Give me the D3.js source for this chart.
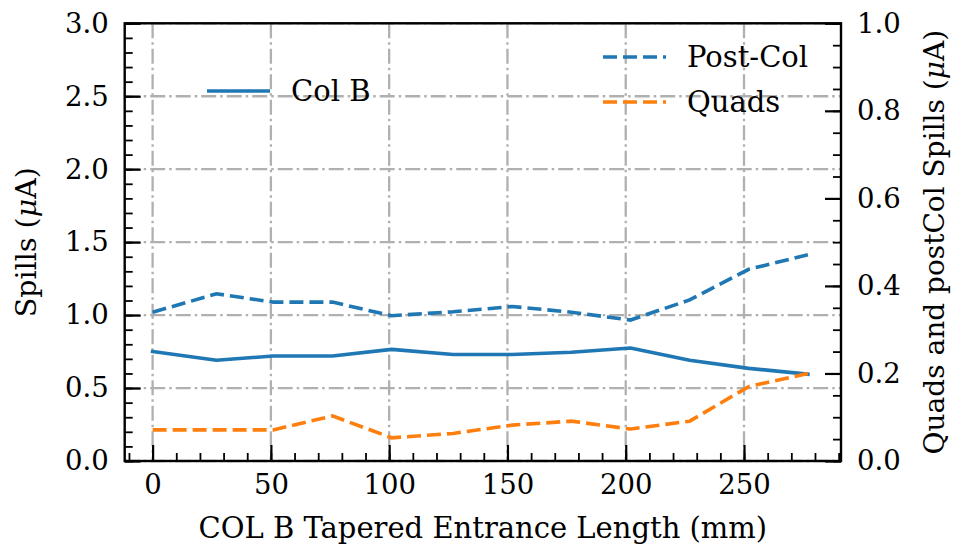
<!DOCTYPE html>
<html>
<head>
<meta charset="utf-8">
<script src="https://cdn.jsdelivr.net/npm/d3@7"></script>
<style>
  body { margin: 0; background: #fff; }
  svg { display: block; font-family: "DejaVu Serif", serif; }
  .axis text { font-family: "DejaVu Serif", serif; font-size: 27.5px; fill: #000; }
  .axis path.domain { display: none; }
</style>
</head>
<body>
<div id="chart"></div>
<script>
// tapered entrance length (mm)
const lengths = [0, 27, 51, 76, 101, 127, 152, 177, 202, 227, 252, 277];
// left axis: Col B spills (uA)
const colB = [0.75, 0.69, 0.72, 0.72, 0.765, 0.73, 0.73, 0.745, 0.775, 0.69, 0.635, 0.595];
// right axis: post-collimator and quads spills (uA)
const postCol = [0.34, 0.382, 0.363, 0.363, 0.332, 0.341, 0.353, 0.34, 0.322, 0.368, 0.438, 0.471];
const quads = [0.071, 0.071, 0.071, 0.103, 0.053, 0.063, 0.082, 0.091, 0.073, 0.091, 0.17, 0.2];

const xTicks = [0, 50, 100, 150, 200, 250];
const yLeftTicks = [0, 0.5, 1.0, 1.5, 2.0, 2.5, 3.0];
const yRightTicks = [0, 0.2, 0.4, 0.6, 0.8, 1.0];

const width = 953, height = 548;
const margin = { top: 23.3, right: 112, bottom: 87, left: 124.7 };
const innerW = width - margin.left - margin.right;
const innerH = height - margin.top - margin.bottom;

const svg = d3.select("#chart").append("svg")
  .attr("width", width)
  .attr("height", height);
const g = svg.append("g")
  .attr("transform", `translate(${margin.left},${margin.top})`);

const x = d3.scaleLinear().domain([-11.8, 291]).range([0, innerW]);
const yL = d3.scaleLinear().domain([0, 3]).range([innerH, 0]);
const yR = d3.scaleLinear().domain([0, 1]).range([innerH, 0]);

// grid (dash-dot, only the major ticks of the left axis)
const gridDash = "15,4,2.5,4";
g.append("g").selectAll("line").data(xTicks).join("line")
  .attr("x1", d => x(d)).attr("x2", d => x(d))
  .attr("y1", 0).attr("y2", innerH)
  .attr("stroke", "#b0b0b0").attr("stroke-width", 2.3)
  .attr("stroke-dasharray", gridDash);
g.append("g").selectAll("line").data(yLeftTicks).join("line")
  .attr("x1", 0).attr("x2", innerW)
  .attr("y1", d => yL(d)).attr("y2", d => yL(d))
  .attr("stroke", "#b0b0b0").attr("stroke-width", 2.3)
  .attr("stroke-dasharray", gridDash);

// series
const blue = "#1f77b4", orange = "#ff7f0e";
const lw = 3.6, dash = "14,6";
const lineL = d3.line().x((d, i) => x(lengths[i])).y(d => yL(d));
const lineR = d3.line().x((d, i) => x(lengths[i])).y(d => yR(d));

g.append("path").datum(colB)
  .attr("fill", "none").attr("stroke", blue).attr("stroke-width", lw)
  .attr("stroke-linejoin", "round").attr("stroke-linecap", "square")
  .attr("d", lineL);
g.append("path").datum(postCol)
  .attr("fill", "none").attr("stroke", blue).attr("stroke-width", lw)
  .attr("stroke-dasharray", dash)
  .attr("d", lineR);
g.append("path").datum(quads)
  .attr("fill", "none").attr("stroke", orange).attr("stroke-width", lw)
  .attr("stroke-dasharray", dash)
  .attr("d", lineR);

// axes with inward ticks
function minorRange(a, b, step) {
  const out = [];
  for (let v = a; v <= b + 1e-9; v += step) out.push(+v.toFixed(4));
  return out;
}
const xMinor = minorRange(-10, 290, 10);
const yLMinor = minorRange(0, 3, 0.1);
const yRMinor = minorRange(0, 1, 0.05);

g.append("g").attr("class", "axis").attr("transform", `translate(0,${innerH})`)
  .call(d3.axisBottom(x).tickValues(xMinor).tickSize(-8).tickFormat(""))
  .selectAll("line").attr("stroke-width", 1.8);
g.append("g").attr("class", "axis").attr("transform", `translate(0,${innerH})`)
  .call(d3.axisBottom(x).tickValues(xTicks).tickSize(-16).tickPadding(13).tickFormat(d3.format("d")))
  .call(a => a.selectAll("line").attr("stroke-width", 2.2));

g.append("g").attr("class", "axis")
  .call(d3.axisLeft(yL).tickValues(yLMinor).tickSize(-8).tickFormat(""))
  .selectAll("line").attr("stroke-width", 1.8);
g.append("g").attr("class", "axis")
  .call(d3.axisLeft(yL).tickValues(yLeftTicks).tickSize(-16).tickPadding(16).tickFormat(d3.format(".1f")))
  .call(a => a.selectAll("line").attr("stroke-width", 2.2));

g.append("g").attr("class", "axis").attr("transform", `translate(${innerW},0)`)
  .call(d3.axisRight(yR).tickValues(yRMinor).tickSize(-8).tickFormat(""))
  .selectAll("line").attr("stroke-width", 1.8);
g.append("g").attr("class", "axis").attr("transform", `translate(${innerW},0)`)
  .call(d3.axisRight(yR).tickValues(yRightTicks).tickSize(-16).tickPadding(16).tickFormat(d3.format(".1f")))
  .call(a => a.selectAll("line").attr("stroke-width", 2.2));

// frame
g.append("rect")
  .attr("width", innerW).attr("height", innerH)
  .attr("fill", "none").attr("stroke", "#000").attr("stroke-width", 2.4);

// axis labels
svg.append("text")
  .attr("x", margin.left + innerW / 2).attr("y", 538)
  .attr("text-anchor", "middle").attr("font-size", 29)
  .text("COL B Tapered Entrance Length (mm)");

const yLab = svg.append("text")
  .attr("transform", `translate(36,${margin.top + innerH / 2}) rotate(-90)`)
  .attr("text-anchor", "middle").attr("font-size", 28.5);
yLab.append("tspan").text("Spills (");
yLab.append("tspan").attr("font-style", "italic").text("μ");
yLab.append("tspan").text("A)");

const yRLab = svg.append("text")
  .attr("transform", `translate(944,${margin.top + innerH / 2}) rotate(-90)`)
  .attr("text-anchor", "middle").attr("font-size", 28);
yRLab.append("tspan").text("Quads and postCol Spills (");
yRLab.append("tspan").attr("font-style", "italic").text("μ");
yRLab.append("tspan").text("A)");

// legends
const legendL = [{ label: "Col B", color: blue, dash: null, x: 207, y: 91 }];
const legendR = [
  { label: "Post-Col", color: blue, dash: dash, x: 603, y: 57 },
  { label: "Quads", color: orange, dash: dash, x: 603, y: 102 }
];
[...legendL, ...legendR].forEach(d => {
  svg.append("line")
    .attr("x1", d.x).attr("x2", d.x + 63)
    .attr("y1", d.y).attr("y2", d.y)
    .attr("stroke", d.color).attr("stroke-width", lw)
    .attr("stroke-dasharray", d.dash);
  svg.append("text")
    .attr("x", d.x + 84).attr("y", d.y)
    .attr("dy", "0.35em").attr("font-size", 29)
    .text(d.label);
});
</script>
</body>
</html>
